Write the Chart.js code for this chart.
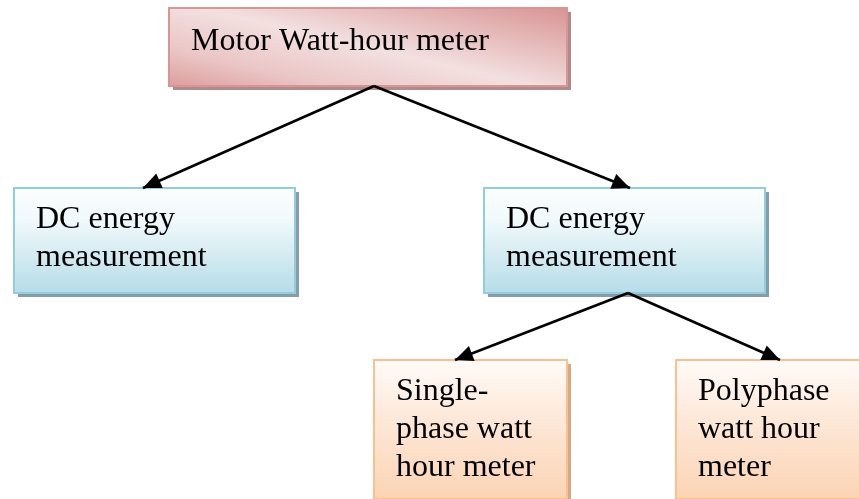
<!DOCTYPE html>
<html>
<head>
<meta charset="utf-8">
<script src="https://cdn.jsdelivr.net/npm/chart.js@4"></script>
<style>
  html, body { margin: 0; padding: 0; background: #ffffff; }
  #wrap { width: 859px; height: 499px; position: relative; }
</style>
</head>
<body>
<div id="wrap"><canvas id="tree"></canvas></div>
<script>
// Node labels (one entry per box, split into lines)
const nodeLabels = [
    ["Motor Watt-hour meter"],
    ["DC energy", "measurement"],
    ["DC energy", "measurement"],
    ["Single-", "phase watt", "hour meter"],
    ["Polyphase", "watt hour", "meter"]
];
// Box extents in diagram units (x to the right, y downwards)
const nodeLeft   = [169, 14, 484, 374, 676];
const nodeRight  = [567, 295, 765, 567, 861];
const nodeTop    = [8, 188, 188, 360, 360];
const nodeBottom = [86, 293, 293, 499, 499];
const nodeLevel  = [0, 1, 1, 2, 2];

// Connectors: parent -> child
const edgeFrom  = [0, 0, 2, 2];
const edgeTo    = [1, 2, 3, 4];
const edgeFromX = [374, 374, 628, 628];
const edgeToX   = [143, 630, 455, 780];

// Level styling
const levelStyles = [
    { border: "#d99594", shadow: "rgba(150,100,100,0.75)", firstBase: 42,
      stops: [[0, "#d89394"], [0.22, "#e4b5b5"], [0.5, "#f3e0e0"], [0.78, "#ebc6c6"], [1, "#dc9d9d"]], diagonal: true },
    { border: "#93cddd", shadow: "rgba(110,140,150,0.85)", firstBase: 40,
      stops: [[0, "#fbfeff"], [0.3, "#f1f9fb"], [1, "#b6dde8"]], diagonal: false },
    { border: "#fac08f", shadow: "rgba(210,160,120,0.9)", firstBase: 40,
      stops: [[0, "#fffbf8"], [0.4, "#fde9da"], [1, "#fbd4b4"]], diagonal: false }
];

const edgeDatasets = edgeFrom.map((f, i) => ({
    type: "line",
    data: [
        { x: edgeFromX[i], y: nodeBottom[f] },
        { x: edgeToX[i], y: nodeTop[edgeTo[i]] }
    ],
    borderColor: "#000000",
    borderWidth: 2.6,
    pointRadius: 0,
    showLine: true,
    fill: false
}));

const boxPlugin = {
    id: "boxes",
    beforeDatasetsDraw(chart) {
        const ctx = chart.ctx;
        const xs = chart.scales.x, ys = chart.scales.y;
        nodeLabels.forEach((lines, i) => {
            const st = levelStyles[nodeLevel[i]];
            const x0 = xs.getPixelForValue(nodeLeft[i]);
            const x1 = xs.getPixelForValue(nodeRight[i]);
            const y0 = ys.getPixelForValue(nodeTop[i]);
            const y1 = ys.getPixelForValue(nodeBottom[i]);
            ctx.save();
            // shadow
            ctx.fillStyle = st.shadow;
            ctx.fillRect(x0 + 4, y0 + 4, x1 - x0, y1 - y0);
            // fill: the top box has a diagonal sheen, the rest fade downwards
            let g;
            if (st.diagonal) {
                const cx = (x0 + x1) / 2, cy = (y0 + y1) / 2;
                const dx = -0.229 * 84, dy = 0.973 * 84;
                g = ctx.createLinearGradient(cx - dx, cy - dy, cx + dx, cy + dy);
            } else {
                g = ctx.createLinearGradient(0, y0, 0, y1);
            }
            st.stops.forEach(s => g.addColorStop(s[0], s[1]));
            ctx.fillStyle = g;
            ctx.fillRect(x0, y0, x1 - x0, y1 - y0);
            ctx.lineWidth = 2;
            ctx.strokeStyle = st.border;
            ctx.strokeRect(x0, y0, x1 - x0, y1 - y0);
            // text
            ctx.fillStyle = "#000000";
            ctx.font = "32px 'Liberation Serif', 'Times New Roman', serif";
            ctx.textBaseline = "alphabetic";
            ctx.textAlign = "left";
            lines.forEach((t, k) => {
                ctx.fillText(t, x0 + 22, y0 + st.firstBase + k * 38);
            });
            ctx.restore();
        });
    },
    afterDatasetsDraw(chart) {
        const ctx = chart.ctx;
        const xs = chart.scales.x, ys = chart.scales.y;
        edgeFrom.forEach((f, i) => {
            const ax = xs.getPixelForValue(edgeFromX[i]);
            const ay = ys.getPixelForValue(nodeBottom[f]);
            const bx = xs.getPixelForValue(edgeToX[i]);
            const by = ys.getPixelForValue(nodeTop[edgeTo[i]]);
            const ang = Math.atan2(by - ay, bx - ax);
            const len = 18, half = 8;
            ctx.save();
            ctx.translate(bx, by);
            ctx.rotate(ang);
            ctx.beginPath();
            ctx.moveTo(0, 0);
            ctx.lineTo(-len, -half);
            ctx.lineTo(-len, half);
            ctx.closePath();
            ctx.fillStyle = "#000000";
            ctx.fill();
            ctx.restore();
        });
    }
};

new Chart(document.getElementById("tree"), {
    type: "scatter",
    data: { datasets: edgeDatasets },
    options: {
        responsive: true,
        maintainAspectRatio: false,
        animation: false,
        layout: { padding: 0 },
        plugins: { legend: { display: false }, tooltip: { enabled: false } },
        scales: {
            x: { type: "linear", min: 0, max: 859, display: false },
            y: { type: "linear", min: 0, max: 499, reverse: true, display: false }
        }
    },
    plugins: [boxPlugin]
});
</script>
</body>
</html>
